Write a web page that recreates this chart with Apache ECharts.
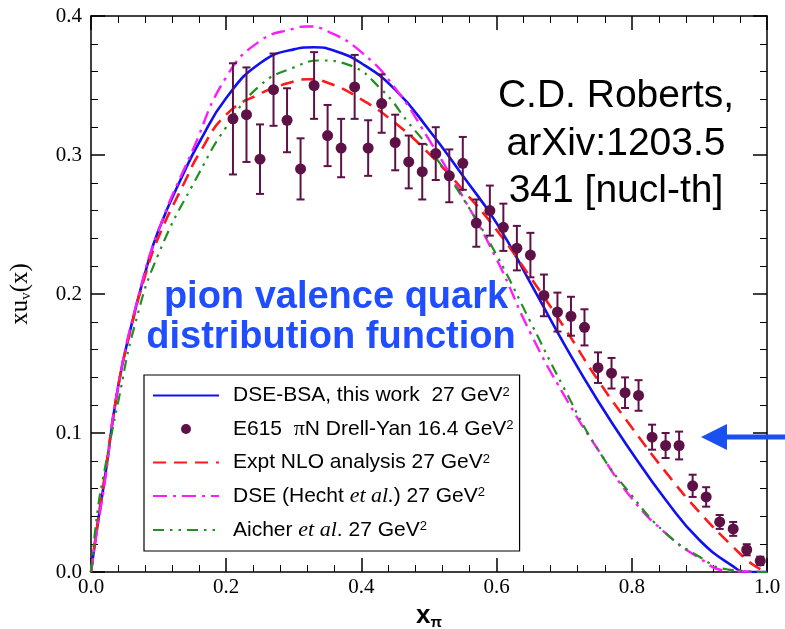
<!DOCTYPE html>
<html>
<head>
<meta charset="utf-8">
<script src="https://cdn.jsdelivr.net/npm/echarts@6/dist/echarts.min.js"></script>
<style>html,body{margin:0;padding:0;background:#fff}#c{width:785px;height:629px}</style>
</head>
<body>
<div id="c"></div>
<script>
// ---- E615 data points ----
const dataX = [0.21,0.23,0.25,0.27,0.29,0.31,0.33,0.35,0.37,0.39,0.41,0.43,0.45,0.47,0.49,0.51,0.53,0.55,0.57,0.59,
               0.61,0.63,0.65,0.67,0.69,0.71,0.73,0.75,0.77,0.79,0.81,0.83,0.85,0.87,0.89,0.91,0.93,0.95,0.97,0.99];
const dataY = [0.326,0.329,0.297,0.347,0.325,0.290,0.350,0.314,0.305,0.349,0.305,0.337,0.309,0.295,0.288,0.301,0.285,0.294,0.251,0.260,
               0.248,0.233,0.228,0.199,0.187,0.184,0.176,0.147,0.143,0.129,0.127,0.097,0.091,0.091,0.062,0.054,0.036,0.031,0.016,0.008];
const dataErr = [0.040,0.034,0.025,0.026,0.023,0.022,0.024,0.022,0.021,0.023,0.020,0.021,0.020,0.019,0.020,0.019,0.019,0.019,0.017,0.018,
                 0.017,0.016,0.016,0.015,0.014,0.014,0.013,0.011,0.011,0.011,0.011,0.009,0.009,0.010,0.008,0.007,0.005,0.005,0.004,0.003];

// ---- DSE-BSA (blue solid) ----
const bsaX = [0,0.01,0.02,0.04,0.06,0.08,0.10,0.14,0.16,0.20,0.25,0.30,0.33,0.36,0.40,0.45,0.50,0.55,0.60,0.65,0.70,0.75,0.80,0.85,0.90,0.95,0.97,1.0];
const bsaY = [0,0.035,0.066,0.133,0.178,0.215,0.246,0.290,0.309,0.341,0.366,0.376,0.3775,0.375,0.366,0.347,0.318,0.285,0.251,0.208,0.164,0.123,0.086,0.052,0.023,0.004,0.0,0];

// ---- Expt NLO analysis (red dashed) ----
const nloX = [0,0.01,0.02,0.04,0.06,0.08,0.10,0.14,0.16,0.20,0.25,0.30,0.32,0.35,0.40,0.45,0.50,0.55,0.60,0.65,0.70,0.75,0.80,0.85,0.90,0.95,0.98,1.0];
const nloY = [0,0.036,0.068,0.133,0.177,0.213,0.241,0.282,0.301,0.329,0.344,0.353,0.3545,0.352,0.340,0.323,0.301,0.275,0.246,0.212,0.176,0.138,0.104,0.072,0.043,0.018,0.005,0];

// ---- DSE (Hecht et al.) (magenta dash-dot) ----
const hechtX = [0,0.01,0.02,0.04,0.07,0.10,0.15,0.20,0.25,0.30,0.32,0.35,0.40,0.45,0.50,0.55,0.60,0.65,0.70,0.75,0.80,0.85,0.90,0.94,1.0];
const hechtY = [0,0.033,0.063,0.133,0.198,0.246,0.303,0.356,0.382,0.391,0.3925,0.389,0.374,0.348,0.311,0.270,0.225,0.172,0.127,0.088,0.053,0.028,0.010,0.001,0];

// ---- Aicher et al. (green dash-dot-dot) ----
const aicherX = [0,0.01,0.02,0.04,0.065,0.10,0.16,0.20,0.25,0.30,0.34,0.38,0.43,0.47,0.50,0.55,0.60,0.65,0.70,0.75,0.80,0.85,0.90,0.94,1.0];
const aicherY = [0,0.045,0.073,0.122,0.178,0.229,0.287,0.320,0.350,0.363,0.368,0.365,0.347,0.323,0.305,0.269,0.228,0.180,0.132,0.088,0.055,0.028,0.011,0.002,0];

// ---- ticks ----
const xTicks = [0.0,0.2,0.4,0.6,0.8,1.0];
const yTicks = [0.0,0.1,0.2,0.3,0.4];

const seriesNames = ['DSE-BSA','E615','Expt NLO','DSE Hecht','Aicher'];
const legendLabels = {
  'DSE-BSA': 'DSE-BSA, this work  27 GeV{sup|2}',
  'E615': 'E615  {pi|π}N Drell-Yan 16.4 GeV{sup|2}',
  'Expt NLO': 'Expt NLO analysis 27 GeV{sup|2}',
  'DSE Hecht': 'DSE (Hecht {it|et al.}) 27 GeV{sup|2}',
  'Aicher': 'Aicher {it|et al}. 27 GeV{sup|2}'
};

const PTC = '#5e1147';
const pair = (xs, ys) => xs.map((x, i) => [x, ys[i]]);

const chart = echarts.init(document.getElementById('c'), null, {renderer: 'canvas'});

const axisCommon = {
  type: 'value',
  axisLine: {show: true, onZero: false, lineStyle: {color: '#000', width: 1.5}},
  axisTick: {show: true, inside: true, length: 14, lineStyle: {color: '#000', width: 1.5}},
  minorTick: {show: true, splitNumber: 5, length: 7, lineStyle: {color: '#000', width: 1}},
  splitLine: {show: false}
};

const option = {
  backgroundColor: '#fff',
  animation: false,
  grid: {left: 91, right: 18, top: 16, bottom: 57, containLabel: false, outerBoundsMode: 'none'},
  xAxis: [
    Object.assign({}, axisCommon, {
      position: 'bottom', min: xTicks[0], max: xTicks[xTicks.length-1], interval: 0.2,
      axisLabel: {color: '#000', fontFamily: 'Liberation Serif', fontSize: 21, margin: 5,
                  formatter: v => v.toFixed(1), showMinLabel: true, showMaxLabel: true},
      name: 'x{s|π}', nameLocation: 'middle', nameGap: 18,
      nameTextStyle: {color: '#000', fontFamily: 'Liberation Sans', fontWeight: 'bold', fontSize: 26, verticalAlign: 'top',
                      rich: {s: {fontFamily: 'Liberation Sans', fontWeight: 'bold', fontSize: 15, verticalAlign: 'bottom', padding: [14,0,0,0]}}}
    }),
    Object.assign({}, axisCommon, {
      position: 'top', min: xTicks[0], max: xTicks[xTicks.length-1], interval: 0.2,
      axisLabel: {show: false}
    })
  ],
  yAxis: [
    Object.assign({}, axisCommon, {
      position: 'left', min: yTicks[0], max: yTicks[yTicks.length-1], interval: 0.1,
      axisLabel: {color: '#000', fontFamily: 'Liberation Serif', fontSize: 21, margin: 9,
                  formatter: v => v.toFixed(1), showMinLabel: true, showMaxLabel: true},
      name: 'xu{s|v}(x)', nameLocation: 'middle', nameGap: 57, nameRotate: 90,
      nameTextStyle: {color: '#000', fontFamily: 'Liberation Serif', fontSize: 25,
                      rich: {s: {fontFamily: 'Liberation Serif', fontSize: 15, verticalAlign: 'bottom', padding: [13,0,0,0]}}}
    }),
    Object.assign({}, axisCommon, {
      position: 'right', min: yTicks[0], max: yTicks[yTicks.length-1], interval: 0.1,
      axisLabel: {show: false}
    })
  ],
  legend: {
    data: seriesNames.map(n => n === 'E615' ? {name: n} : {name: n, itemStyle: {opacity: 0}}),
    orient: 'vertical',
    left: 144, top: 375,
    itemWidth: 66, itemHeight: 10, itemGap: 12,
    padding: [10, 6, 10, 8],
    borderColor: '#000', borderWidth: 1.2,
    backgroundColor: '#fff',
    selectedMode: false,
    formatter: name => legendLabels[name],
    textStyle: {
      color: '#000', fontFamily: 'Liberation Sans', fontSize: 21, lineHeight: 20, padding: [0,0,0,9],
      rich: {
        sup: {fontFamily: 'Liberation Sans', fontSize: 13, lineHeight: 12, verticalAlign: 'top', color: '#000'},
        it: {fontFamily: 'Liberation Serif', fontStyle: 'italic', fontSize: 22, color: '#000'},
        pi: {fontFamily: 'Liberation Serif', fontSize: 22, color: '#000'}
      }
    }
  },
  series: [
    {name: 'DSE-BSA', type: 'line', data: pair(bsaX, bsaY), smooth: 0.5, showSymbol: false, symbol: 'none',
     lineStyle: {color: '#1010f0', width: 2.6}, itemStyle: {color: '#1010f0'}, z: 3},
    {name: 'Expt NLO', type: 'line', data: pair(nloX, nloY), smooth: 0.5, showSymbol: false, symbol: 'none',
     lineStyle: {color: '#ff1a1a', width: 2.6, type: [13, 8]}, itemStyle: {color: '#ff1a1a'}, z: 3},
    {name: 'DSE Hecht', type: 'line', data: pair(hechtX, hechtY), smooth: 0.5, showSymbol: false, symbol: 'none',
     lineStyle: {color: '#ff1aff', width: 2.4, type: [14, 6, 3, 6]}, itemStyle: {color: '#ff1aff'}, z: 3},
    {name: 'Aicher', type: 'line', data: pair(aicherX, aicherY), smooth: 0.5, showSymbol: false, symbol: 'none',
     lineStyle: {color: '#209020', width: 2.2, type: [11, 6, 2.5, 6, 2.5, 6]}, itemStyle: {color: '#209020'}, z: 3},
    {name: 'E615 errors', type: 'custom', z: 4,
     data: dataX.map((x, i) => [x, dataY[i], dataErr[i]]),
     renderItem: function (params, api) {
       const x = api.value(0), y = api.value(1), e = api.value(2);
       const t = api.coord([x, y + e]), b = api.coord([x, y - e]);
       const w = 4;
       const st = {stroke: PTC, lineWidth: 2};
       return {type: 'group', children: [
         {type: 'line', shape: {x1: t[0], y1: t[1], x2: b[0], y2: b[1]}, style: st},
         {type: 'line', shape: {x1: t[0]-w, y1: t[1], x2: t[0]+w, y2: t[1]}, style: st},
         {type: 'line', shape: {x1: b[0]-w, y1: b[1], x2: b[0]+w, y2: b[1]}, style: st}
       ]};
     }},
    {name: 'E615', type: 'scatter', data: pair(dataX, dataY), symbol: 'circle', symbolSize: 11,
     itemStyle: {color: PTC, opacity: 1}, z: 5}
  ],
  graphic: [
    {type: 'text', x: 616, y: 96, z: 10,
     style: {text: 'C.D. Roberts,', fill: '#000', font: '39px "Liberation Sans"', align: 'center', verticalAlign: 'middle'}},
    {type: 'text', x: 616, y: 144, z: 10,
     style: {text: 'arXiv:1203.5', fill: '#000', font: '39px "Liberation Sans"', align: 'center', verticalAlign: 'middle'}},
    {type: 'text', x: 616, y: 191, z: 10,
     style: {text: '341 [nucl-th]', fill: '#000', font: '39px "Liberation Sans"', align: 'center', verticalAlign: 'middle'}},
    {type: 'text', x: 336, y: 298, z: 10,
     style: {text: 'pion valence quark', fill: '#1f4dff', font: 'bold 38px "Liberation Sans"', align: 'center', verticalAlign: 'middle'}},
    {type: 'text', x: 331, y: 338, z: 10,
     style: {text: 'distribution function', fill: '#1f4dff', font: 'bold 38px "Liberation Sans"', align: 'center', verticalAlign: 'middle'}},
    {type: 'line', z: 10, shape: {x1: 724, y1: 437, x2: 790, y2: 437}, style: {stroke: '#1a4ff0', lineWidth: 5}},
    {type: 'polygon', z: 10, shape: {points: [[701, 437], [727, 424], [727, 450]]}, style: {fill: '#1a4ff0'}}
  ]
};
chart.setOption(option);
</script>
</body>
</html>
